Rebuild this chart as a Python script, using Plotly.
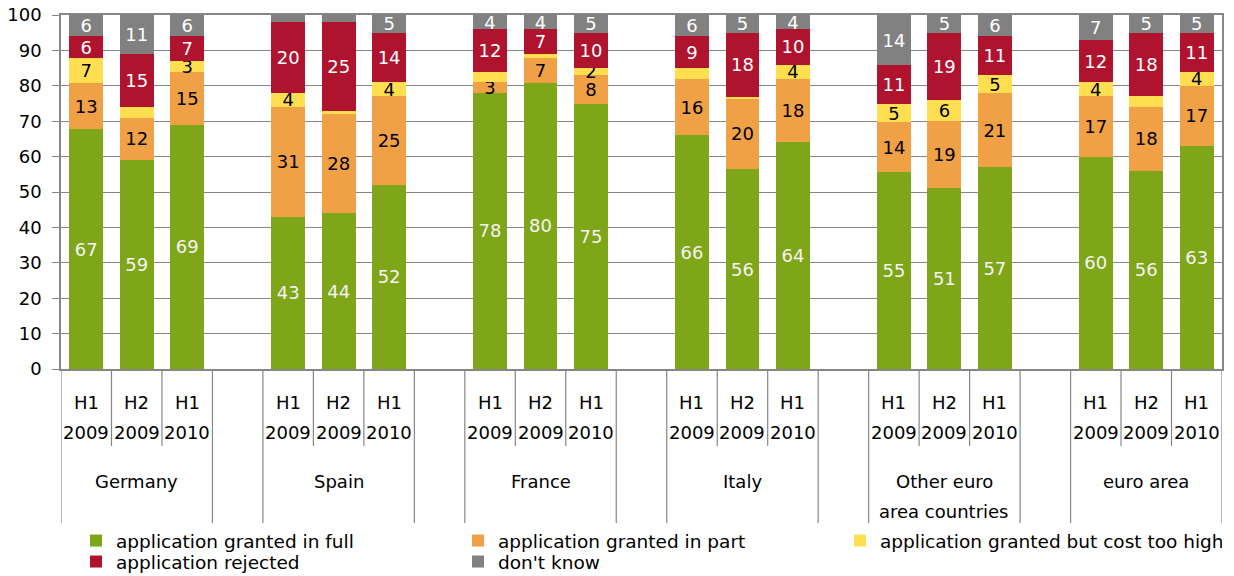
import plotly.graph_objects as go

# ---- data ----
countries = ["Germany", "Spain", "France", "Italy", "Other euro\narea countries", "euro area"]
periods = ["H1", "H2", "H1"]
years = ["2009", "2009", "2010"]

granted_full = [67, 59, 69, 43, 44, 52, 78, 80, 75, 66, 56, 64, 55, 51, 57, 60, 56, 63]
granted_part = [13, 12, 15, 31, 28, 25, 3, 7, 8, 16, 20, 18, 14, 19, 21, 17, 18, 17]
granted_cost_high = [7, 3, 3, 4, 1, 4, 3, 1, 2, 3, 0.3, 4, 5, 6, 5, 4, 3, 4]
rejected = [6, 15, 7, 20, 25, 14, 12, 7, 10, 9, 18, 10, 11, 19, 11, 12, 18, 11]
dont_know = [6, 11, 6, 2, 2, 5, 4, 4, 5, 6, 5, 4, 14, 5, 6, 7, 5, 5]

series_names = ["application granted in full", "application granted in part",
                "application granted but cost too high", "application rejected", "don't know"]
series_values = [granted_full, granted_part, granted_cost_high, rejected, dont_know]
series_colors = ["#7fa518", "#f0a146", "#ffdf4f", "#b0132e", "#818181"]
label_colors = ["#f4f4f4", "#000000", "#000000", "#ffffff", "#ffffff"]
legend_rows = ["legend", "legend", "legend", "legend2", "legend2"]
# segments whose value label is not printed in the reference (series index, bar index)
unlabeled = {(2, 1), (2, 4), (4, 3), (4, 4), (2, 6), (2, 7), (2, 9), (2, 10), (2, 16)}

FONT = "DejaVu Sans"
FS = 18
GRID = "#868686"

n_per_group = len(periods)
slot = n_per_group + 1
xpos = [g * slot + p for g in range(len(countries)) for p in range(n_per_group)]
xmax = (len(countries) - 1) * slot + n_per_group - 1

fig = go.Figure()
for si, (name, vals, col, lc, lg) in enumerate(zip(series_names, series_values, series_colors,
                                                   label_colors, legend_rows)):
    texts = ["" if (si, i) in unlabeled else f"{v:g}" for i, v in enumerate(vals)]
    fig.add_trace(go.Bar(
        x=xpos, y=vals, name=name, width=0.67, legend=lg,
        marker=dict(color=col, line=dict(width=0)),
        text=texts, textposition="inside", insidetextanchor="middle",
        textangle=0, constraintext="none",
        textfont=dict(family=FONT, size=FS, color=lc),
        hoverinfo="skip",
    ))

# page has an 8px body margin: figure is shifted by 8px in the screenshot
OFF = 8
W, H = 1234 - OFF, 576 - OFF
L, T = 61 - OFF, 15 - OFF
PW, PH = 1161, 354
R = W - L - PW
B = H - T - PH
bottom_px = 15 + PH  # screenshot pixel of y=0


def py(px):
    return (bottom_px - px) / PH


shapes = []
for g in range(len(countries)):
    x0 = g * slot
    for k in range(n_per_group + 1):
        xb = x0 + k - 0.5
        long_line = k in (0, n_per_group)
        shapes.append(dict(type="line", xref="x", yref="paper", x0=xb, x1=xb,
                           y0=0, y1=py(523 if long_line else 446),
                           line=dict(color=GRID, width=1.2)))

annotations = []
for g, c in enumerate(countries):
    for p in range(n_per_group):
        xc = g * slot + p
        annotations.append(dict(x=xc, y=py(403), xref="x", yref="paper", text=periods[p],
                                showarrow=False, font=dict(family=FONT, size=FS, color="#000"),
                                yanchor="middle"))
        annotations.append(dict(x=xc, y=py(432), xref="x", yref="paper", text=years[p],
                                showarrow=False, font=dict(family=FONT, size=FS, color="#000"),
                                yanchor="middle"))
    for li, line in enumerate(c.split("\n")):
        annotations.append(dict(x=g * slot + 1, y=py(481 + 30 * li), xref="x", yref="paper",
                                text=line, showarrow=False,
                                font=dict(family=FONT, size=FS, color="#000"), yanchor="middle"))

legend_common = dict(orientation="h", x=15 / PW, xanchor="left", yanchor="top",
                     entrywidth=337, traceorder="normal", tracegroupgap=0,
                     bgcolor="rgba(0,0,0,0)",
                     font=dict(family=FONT, size=18.5, color="#000"), itemclick=False)

fig.update_layout(
    width=W, height=H,
    margin=dict(l=L, r=R, t=T, b=B, autoexpand=False),
    barmode="stack", barnorm="percent",
    plot_bgcolor="white", paper_bgcolor="white",
    font=dict(family=FONT, size=FS, color="#000"),
    showlegend=True,
    legend=dict(y=py(522), **legend_common),
    legend2=dict(y=py(543), **legend_common),
    shapes=shapes, annotations=annotations,
    xaxis=dict(range=[-0.5, xmax + 0.5], showticklabels=False, showgrid=False, zeroline=False,
               showline=True, linecolor=GRID, linewidth=1.5, mirror=True, ticks=""),
    yaxis=dict(range=[0, 100], dtick=10, showgrid=True, gridcolor=GRID, gridwidth=1,
               zeroline=False, showline=True, linecolor=GRID, linewidth=1.5, mirror=True,
               ticks="outside", ticklen=7, tickcolor=GRID, ticklabelstandoff=7,
               ticklabeloverflow="allow",
               tickfont=dict(family=FONT, size=FS, color="#000")),
)

fig.write_html("out.html")
